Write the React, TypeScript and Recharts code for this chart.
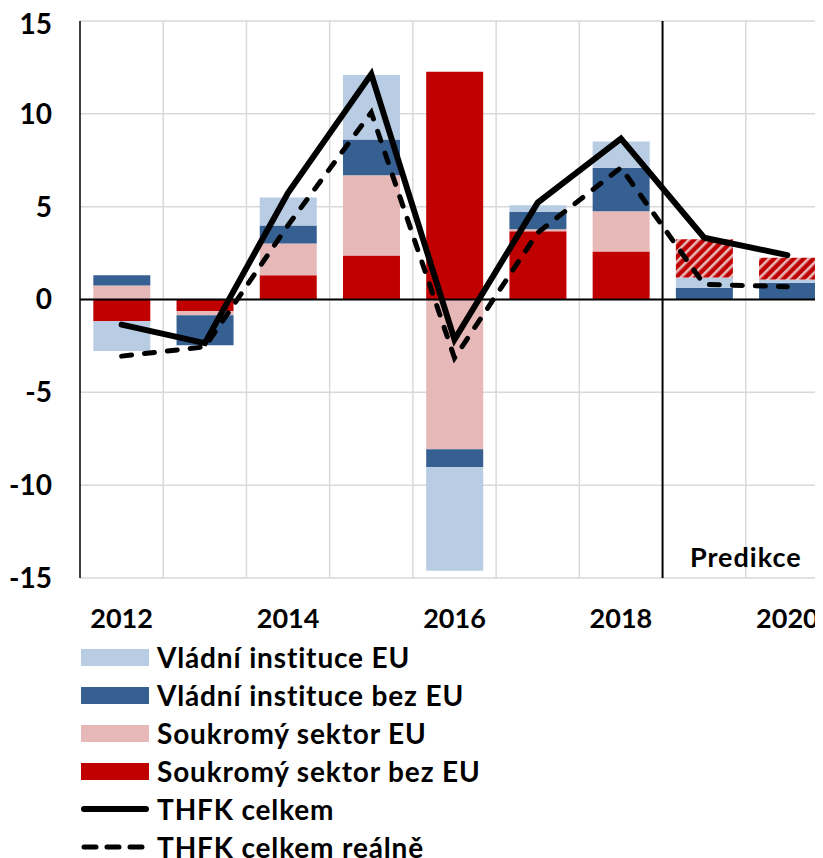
import React from 'react';
import {
  ComposedChart,
  Bar,
  Line,
  XAxis,
  YAxis,
  CartesianGrid,
  ReferenceLine,
} from 'recharts';

// ---- data ----
const years = [2012, 2013, 2014, 2015, 2016, 2017, 2018, 2019, 2020];
const privateNonEU = [-1.17, -0.63, 1.3, 2.37, 12.27, 3.67, 2.59, 0, 0];
const privateEU = [0.76, -0.22, 1.72, 4.32, -8.06, 0.11, 2.16, 0, 0];
const govNonEU = [0.54, -1.62, 0.97, 1.93, -0.97, 0.93, 2.34, 0.63, 0.9];
const govEU = [-1.6, 0, 1.5, 3.47, -5.58, 0.36, 1.42, 0.56, 0.18];
const privateForecast = [0, 0, 0, 0, 0, 0, 0, 2.05, 1.17];
const totalNominal = [-1.35, -2.35, 5.75, 12.14, -2.16, 5.22, 8.67, 3.33, 2.39];
const totalReal = [-3.05, -2.55, 4.0, 10.07, -3.15, 3.6, 7.1, 0.81, 0.69];
const yTicks = [-15, -10, -5, 0, 5, 10, 15];
const forecastStart = 2019;
const forecastLabel = 'Predikce';
const forecastLabelYear = 2020;

const seriesNames = {
  govEU: 'Vládní instituce EU',
  govNonEU: 'Vládní instituce bez EU',
  privateEU: 'Soukromý sektor EU',
  privateNonEU: 'Soukromý sektor bez EU',
  nominal: 'THFK celkem',
  real: 'THFK celkem reálně',
};

const COLORS = {
  govEU: '#B8CCE4',
  govNonEU: '#366092',
  privateEU: '#E6B8B7',
  privateNonEU: '#C00000',
};

const data = years.map((y, i) => ({
  year: y,
  privateNonEU: privateNonEU[i],
  privateEU: privateEU[i],
  govNonEU: govNonEU[i],
  govEU: govEU[i],
  privateForecast: privateForecast[i],
  nominal: totalNominal[i],
  real: totalReal[i],
}));

// category boundaries (left edge of each band except the first)
const gridYears = years.slice(1).filter((y) => y !== forecastStart && y !== forecastLabelYear);

const FONT = 'Lato, "Open Sans", sans-serif';

const legendItems = [
  { label: seriesNames.govEU, kind: 'box', color: COLORS.govEU },
  { label: seriesNames.govNonEU, kind: 'box', color: COLORS.govNonEU },
  { label: seriesNames.privateEU, kind: 'box', color: COLORS.privateEU },
  { label: seriesNames.privateNonEU, kind: 'box', color: COLORS.privateNonEU },
  { label: seriesNames.nominal, kind: 'line', color: '#000' },
  { label: seriesNames.real, kind: 'dash', color: '#000' },
];

export default function App() {
  return (
    <div style={{ fontFamily: FONT }}>
      <style>{'html,body{overflow:hidden;}'}</style>
      <svg width={0} height={0} style={{ position: 'absolute' }}>
        <defs>
          <pattern
            id="stripes"
            patternUnits="userSpaceOnUse"
            width={7}
            height={7}
            patternTransform="rotate(45)"
          >
            <rect x={0} y={0} width={7} height={7} fill="#C00000" />
            <rect x={0} y={0} width={2.6} height={7} fill="#E6B8B7" />
          </pattern>
        </defs>
      </svg>
      <div style={{ width: 815, height: 630, overflow: 'hidden' }}>
        <ComposedChart
          width={822}
          height={630}
          data={data}
          stackOffset="sign"
          barCategoryGap="16%"
          margin={{ top: 13, right: 1, left: 0, bottom: 0 }}
        >
          <CartesianGrid vertical={false} stroke="#D9D9D9" strokeWidth={1.5} />
          <XAxis
            dataKey="year"
            interval={1}
            axisLine={false}
            tickLine={false}
            tickSize={0}
            tickMargin={31}
            height={60}
            tick={{ fontSize: 27, fontWeight: 700, fill: '#000', fontFamily: FONT }}
          />
          <YAxis
            domain={[-15, 15]}
            ticks={yTicks}
            width={72}
            axisLine={{ stroke: '#000', strokeWidth: 1.5 }}
            tickLine={false}
            tickSize={0}
            tickMargin={28}
            tick={{ fontSize: 28, fontWeight: 700, fill: '#000', fontFamily: FONT }}
          />
          {gridYears.map((y) => (
            <ReferenceLine
              key={y}
              x={y}
              position="start"
              stroke="#D9D9D9"
              strokeWidth={1.5}
            />
          ))}
          <Bar dataKey="privateNonEU" stackId="a" fill={COLORS.privateNonEU} isAnimationActive={false} />
          <Bar dataKey="privateEU" stackId="a" fill={COLORS.privateEU} isAnimationActive={false} />
          <Bar dataKey="govNonEU" stackId="a" fill={COLORS.govNonEU} isAnimationActive={false} />
          <Bar dataKey="govEU" stackId="a" fill={COLORS.govEU} isAnimationActive={false} />
          <Bar dataKey="privateForecast" stackId="a" fill="url(#stripes)" isAnimationActive={false} />
          <ReferenceLine
            x={forecastLabelYear}
            position="start"
            stroke="#D9D9D9"
            strokeWidth={1.5}
            label={{
              value: forecastLabel,
              position: 'insideBottom',
              offset: 11,
              fontSize: 27,
              fontWeight: 700,
              fill: '#000',
              fontFamily: FONT,
              letterSpacing: 1,
            }}
          />
          <ReferenceLine x={forecastStart} position="start" stroke="#000" strokeWidth={2} />
          <ReferenceLine y={0} stroke="#000" strokeWidth={2} />
          <Line
            dataKey="real"
            stroke="#000"
            strokeWidth={5}
            strokeDasharray="10 13"
            strokeLinecap="round"
            dot={false}
            activeDot={false}
            isAnimationActive={false}
          />
          <Line
            dataKey="nominal"
            stroke="#000"
            strokeWidth={6}
            strokeLinecap="round"
            dot={false}
            activeDot={false}
            isAnimationActive={false}
          />
        </ComposedChart>
      </div>
      <div>
        {legendItems.map((it) => (
          <div
            key={it.label}
            style={{ display: 'flex', alignItems: 'center', height: 38 }}
          >
            <div style={{ marginLeft: 73, width: 68, height: 20, display: 'flex', alignItems: 'center' }}>
              {it.kind === 'box' ? (
                <div style={{ width: 68, height: 17, background: it.color }} />
              ) : (
                <svg width={68} height={20}>
                  <line
                    x1={3}
                    y1={10}
                    x2={65}
                    y2={10}
                    stroke={it.color}
                    strokeWidth={it.kind === 'line' ? 6 : 5}
                    strokeLinecap="round"
                    strokeDasharray={it.kind === 'dash' ? '12 11' : undefined}
                  />
                </svg>
              )}
            </div>
            <span style={{ marginLeft: 8, fontSize: 28, fontWeight: 700, color: '#000', letterSpacing: 0.85 }}>
              {it.label}
            </span>
          </div>
        ))}
      </div>
    </div>
  );
}
